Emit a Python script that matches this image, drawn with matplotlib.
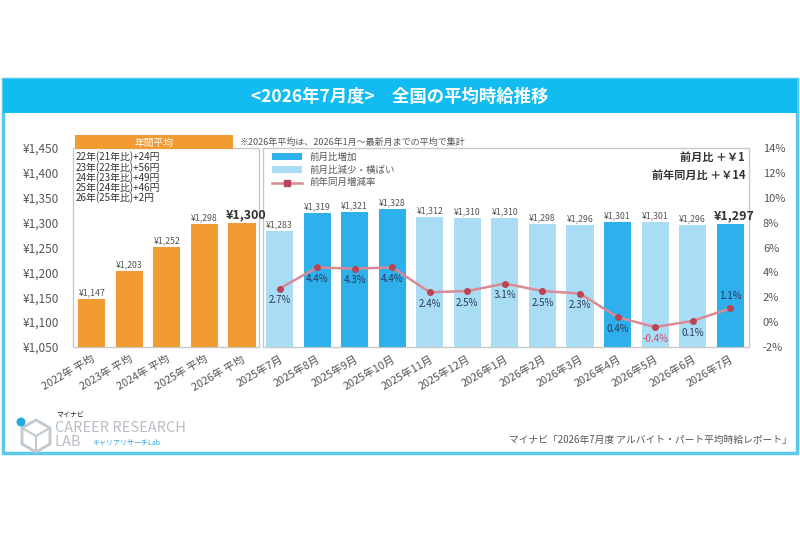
import matplotlib
matplotlib.use("Agg")
import matplotlib.pyplot as plt
from matplotlib.patches import Rectangle, Circle, Polygon
import numpy as np

plt.rcParams['font.family'] = ['Noto Sans CJK JP', 'DejaVu Sans']

# ---- data ----
annual_labels = ["2022年 平均", "2023年 平均", "2024年 平均", "2025年 平均", "2026年 平均"]
annual_values = [1147, 1203, 1252, 1298, 1300]
month_labels = ["2025年7月", "2025年8月", "2025年9月", "2025年10月", "2025年11月", "2025年12月",
                "2026年1月", "2026年2月", "2026年3月", "2026年4月", "2026年5月", "2026年6月", "2026年7月"]
month_values = [1283, 1319, 1321, 1328, 1312, 1310, 1310, 1298, 1296, 1301, 1301, 1296, 1297]
month_increase = [False, True, True, True, False, False, False, False, False, True, False, False, True]
yoy_rate = [2.7, 4.4, 4.3, 4.4, 2.4, 2.5, 3.1, 2.5, 2.3, 0.4, -0.4, 0.1, 1.1]
annual_notes = ["22年(21年比)+24円", "23年(22年比)+56円", "24年(23年比)+49円",
                "25年(24年比)+46円", "26年(25年比)+2円"]
left_ticks = [1050, 1100, 1150, 1200, 1250, 1300, 1350, 1400, 1450]
right_ticks = [-2, 0, 2, 4, 6, 8, 10, 12, 14]

ORANGE = "#F39A33"
DARK = "#2DB0EC"
LIGHT = "#A9DDF6"
CYAN = "#12BCF0"
LINE = "#D98A95"
MARK = "#B84555"
GRAY = "#555555"

fig = plt.figure(figsize=(8, 5.33), dpi=100)

# ---- frame & title bar ----
fa = fig.add_axes([0, 0, 1, 1])
fa.set_xlim(0, 800); fa.set_ylim(533, 0); fa.axis('off')
fa.add_patch(Rectangle((3, 79), 794, 374, facecolor='white', edgecolor='#5CC9EA', lw=2.5))
fa.add_patch(Rectangle((3, 79), 794, 34, facecolor=CYAN, edgecolor='none'))
fa.text(400, 97, "<2026年7月度>　全国の平均時給推移", color='white', fontsize=12.5,
        fontweight='bold', ha='center', va='center')

# ---- main axes ----
ax = fig.add_axes([73/800, 1-347/533, (749-73)/800, (347-148)/533])
labels = annual_labels + month_labels
n = len(labels)
x = np.arange(n)
na = len(annual_values)
ax.bar(x[:na], [v - 1050 for v in annual_values], bottom=1050, width=0.72, color=ORANGE, zorder=2)
mcol = [DARK if inc else LIGHT for inc in month_increase]
ax.bar(x[na:], [v - 1050 for v in month_values], bottom=1050, width=0.72, color=mcol, zorder=2)
ax.set_xlim(-0.5, n - 0.5)
ax.set_ylim(1050, 1450)
ax.set_yticks(left_ticks)
ax.set_yticklabels([f"¥{v:,}" for v in left_ticks], color=GRAY, fontsize=8.5)
ax.set_xticks(x)
ax.set_xticklabels(labels, rotation=30, ha='right', rotation_mode='anchor', color=GRAY, fontsize=7.8)
ax.tick_params(length=0, pad=10)
ax.tick_params(axis='x', pad=5)
for s in ax.spines.values():
    s.set_visible(False)

# boxes
ax.add_patch(Rectangle((-0.5, 1050), na - 0.05, 400, facecolor='none', edgecolor='#C8C8C8', lw=1, zorder=1, clip_on=False))
ax.add_patch(Rectangle((na - 0.45, 1050), n - na - 0.05, 400, facecolor='none', edgecolor='#C8C8C8', lw=1, zorder=1, clip_on=False))

# annual header
ax.add_patch(Rectangle((-0.45, 1447), 4.2, 29, facecolor=ORANGE, edgecolor='none', clip_on=False, zorder=3))
ax.text(1.65, 1461, "年間平均", color='white', fontsize=7, ha='center', va='center', zorder=4)
ax.text(3.95, 1461, "※2026年平均は、2026年1月～最新月までの平均で集計", color=GRAY, fontsize=6.5,
        ha='left', va='center')

for i, t in enumerate(annual_notes):
    ax.text(-0.43, 1432 - i * 20.5, t, fontsize=7.1, color='#333333', ha='left', va='center')

# value labels
vals = annual_values + month_values
for i, v in enumerate(vals):
    big = (i == na - 1) or (i == n - 1)
    ax.text(i + (0.1 if big else 0), v + 3, f"¥{v:,}", ha='center', va='bottom',
            fontsize=9 if big else 6.3, color='#333333' if big else GRAY,
            fontweight='bold' if big else 'normal', zorder=5)

# legend
lx = na - 0.2
ax.add_patch(Rectangle((lx, 1425), 0.8, 14, facecolor=DARK, edgecolor='none'))
ax.text(lx + 1.0, 1432, "前月比増加", fontsize=6.8, color=GRAY, va='center')
ax.add_patch(Rectangle((lx, 1399), 0.8, 14, facecolor=LIGHT, edgecolor='none'))
ax.text(lx + 1.0, 1406, "前月比減少・横ばい", fontsize=6.8, color=GRAY, va='center')
ax.plot([lx, lx + 0.8], [1380, 1380], color=LINE, lw=1.8)
ax.plot([lx + 0.4], [1380], marker='s', color=MARK, ms=4.5)
ax.text(lx + 1.0, 1380, "前年同月増減率", fontsize=6.8, color=GRAY, va='center')

ax.text(n - 0.6, 1432, "前月比 ＋￥1", fontsize=8, color='#333333', ha='right', va='center', fontweight='bold')
ax.text(n - 0.6, 1394, "前年同月比 ＋￥14", fontsize=8, color='#333333', ha='right', va='center', fontweight='bold')

# ---- right axis with yoy line ----
ax2 = ax.twinx()
ax2.set_ylim(-2, 14)
ax2.set_yticks(right_ticks)
ax2.set_yticklabels([f"{v}%" for v in right_ticks], color=GRAY, fontsize=8)
ax2.tick_params(length=0, pad=10)
for s in ax2.spines.values():
    s.set_visible(False)
mx = x[na:]
ax2.plot(mx, yoy_rate, color=LINE, lw=1.8, zorder=3)
ax2.plot(mx, yoy_rate, ls='none', marker='o', ms=4, color=MARK, zorder=4)
for i, (xi, r) in enumerate(zip(mx, yoy_rate)):
    last = i == len(yoy_rate) - 1
    col = '#E04466' if r < 0 else '#2A3A5A'
    ax2.text(xi, r + (0.6 if last else -0.55), f"{r}%", ha='center',
             va='bottom' if last else 'top', fontsize=7, color=col, zorder=5)

# ---- footer ----
fa.add_patch(Polygon([[22, 428], [36, 420], [50, 428], [50, 444], [36, 452], [22, 444]],
                     closed=True, facecolor='none', edgecolor='#BFC9CF', lw=2))
fa.plot([36, 36, 22], [452, 436, 428], color='#BFC9CF', lw=1.5)
fa.plot([36, 50], [436, 428], color='#BFC9CF', lw=1.5)
fa.add_patch(Circle((21, 422), 4.5, facecolor='#2AA8E0', edgecolor='none'))
fa.text(56, 415, "マイナビ", fontsize=5, color='#222222', va='center')
fa.text(55, 428, "CAREER RESEARCH", fontsize=10.5, color='#B8BEC4', va='center')
fa.text(55, 442, "LAB", fontsize=10.5, color='#B8BEC4', va='center')
fa.text(92, 442, "キャリアリサーチLab", fontsize=5, color='#2AA8E0', va='center')
fa.text(792, 440, "マイナビ「2026年7月度 アルバイト・パート平均時給レポート」", fontsize=7,
        color=GRAY, ha='right', va='center')

fig.savefig("out.png", dpi=100)
